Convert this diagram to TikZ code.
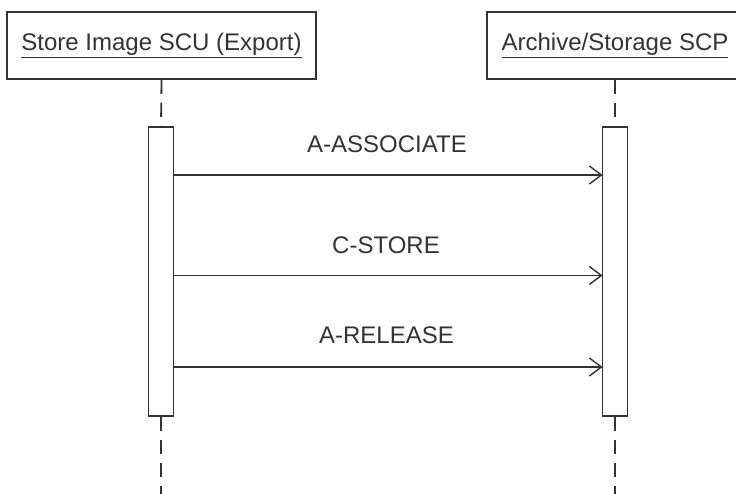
\documentclass[tikz,border=0pt]{standalone}
\usepackage{fontspec}
\setmainfont{Liberation Sans}
\usetikzlibrary{arrows.meta}
\definecolor{ink}{HTML}{333333}
\begin{document}
\begin{tikzpicture}[x=1pt,y=-1pt,
  headbox/.style={draw=ink, line width=1.8pt, fill=white, minimum height=67pt, inner sep=0pt, text=ink, font=\fontsize{24}{28}\selectfont},
  actbar/.style={draw=ink, line width=1.8pt, fill=white, minimum width=25pt, inner sep=0pt},
  lifeline/.style={draw=ink, line width=1.8pt, dash pattern=on 14pt off 9pt},
  msg/.style={draw=ink, line width=1.6pt, -{Straight Barb[length=12pt,width=18pt,line width=1.4pt]}},
  msglabel/.style={text=ink, font=\fontsize{24}{28}\selectfont, inner sep=0pt}]
\useasboundingbox (0,0) rectangle (736,494);
\clip (0,0) rectangle (736,494);
\fill[white] (0,0) rectangle (736,494);
% lifeline ends
\coordinate (lbot) at (161,494);
\coordinate (rbot) at (615,494);
\node[headbox, minimum width=309pt] (hl) at (161.5,45.5) {\raisebox{1.5pt}{\underline{Store Image SCU (Export)}}};
\node[headbox, minimum width=256pt] (hr) at (615,45.5) {\raisebox{1.5pt}{\underline{Archive/Storage SCP}}};
\node[actbar, minimum height=289pt] (bl) at (161,271.5) {};
\node[actbar, minimum height=289pt] (br) at (615,271.5) {};
\draw[lifeline] (hl.south) -- (bl.north);
\draw[lifeline] (hr.south) -- (br.north);
\draw[lifeline] (bl.south) -- (lbot);
\draw[lifeline] (br.south) -- (rbot);
% messages
\coordinate (m1s) at (173.5,175); \coordinate (m1e) at (602.5,175);
\coordinate (m2s) at (173.5,275.5); \coordinate (m2e) at (602.5,275.5);
\coordinate (m3s) at (173.5,367); \coordinate (m3e) at (602.5,367);
\draw[msg] (m1s) -- (m1e);
\draw[msg] (m2s) -- (m2e);
\draw[msg] (m3s) -- (m3e);
\node[msglabel] (l1) at (387,144) {A-ASSOCIATE};
\node[msglabel] (l2) at (386,245) {C-STORE};
\node[msglabel] (l3) at (386.5,335.5) {A-RELEASE};
\end{tikzpicture}
\end{document}
